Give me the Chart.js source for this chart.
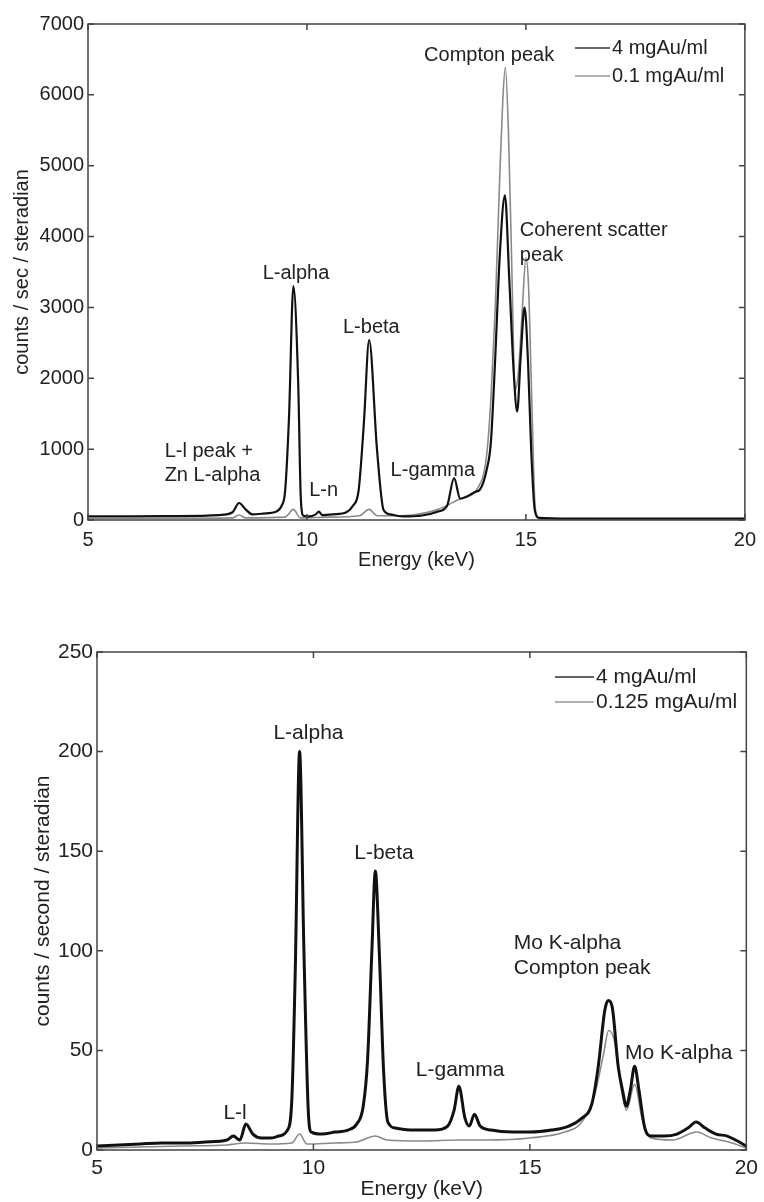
<!DOCTYPE html>
<html>
<head>
<meta charset="utf-8">
<script src="https://cdn.jsdelivr.net/npm/chart.js@4.4.1/dist/chart.umd.min.js"></script>
<style>
  html, body { margin: 0; padding: 0; background: #fff; }
  canvas { display: block; }
</style>
</head>
<body>
<canvas id="spectrumA" width="764" height="600"></canvas>
<canvas id="spectrumB" width="764" height="602"></canvas>
<script>
// upper panel: 4 mgAu/ml vs 0.1 mgAu/ml
let energyA4 = [5.0, 6.0, 7.0, 8.0, 8.3, 8.45, 8.6, 8.75, 9.0, 9.3, 9.42, 9.5, 9.59, 9.69, 9.8, 9.86, 9.92, 10.05, 10.2, 10.27, 10.35, 10.6, 10.9, 11.05, 11.18, 11.3, 11.42, 11.6, 11.75, 11.9, 12.2, 12.6, 13.0, 13.2, 13.36, 13.5, 13.65, 13.85, 13.95, 14.1, 14.2, 14.3, 14.4, 14.52, 14.62, 14.72, 14.8, 14.88, 14.97, 15.05, 15.12, 15.2, 15.3, 16.0, 18.0, 20.0];
let countsA4 = [50, 50, 55, 70, 110, 240, 150, 80, 90, 120, 200, 400, 1450, 3300, 1930, 300, 60, 50, 80, 117, 70, 80, 110, 200, 420, 1370, 2540, 990, 140, 80, 50, 60, 120, 200, 590, 300, 330, 400, 430, 700, 1100, 2300, 3700, 4580, 3400, 2100, 1530, 2300, 3000, 2200, 1000, 150, 30, 20, 20, 20];
let energyA01 = [5.0, 7.0, 8.3, 8.45, 8.6, 9.5, 9.69, 9.85, 10.5, 11.2, 11.42, 11.6, 12.0, 12.4, 13.0, 13.5, 13.9, 14.1, 14.2, 14.3, 14.4, 14.47, 14.53, 14.6, 14.68, 14.75, 14.83, 14.92, 15.0, 15.06, 15.12, 15.2, 15.25, 15.35, 20.0];
let countsA01 = [20, 25, 30, 70, 30, 40, 150, 30, 40, 60, 150, 60, 60, 70, 150, 300, 450, 900, 1700, 3000, 4800, 5900, 6390, 5500, 3500, 1830, 2100, 3000, 3700, 3300, 2000, 300, 60, 15, 10];

// lower panel: 4 mgAu/ml vs 0.125 mgAu/ml
let energyB4 = [5.0, 5.5, 6.0, 6.5, 7.0, 7.5, 8.0, 8.15, 8.3, 8.44, 8.6, 8.8, 9.0, 9.2, 9.4, 9.5, 9.58, 9.68, 9.78, 9.88, 9.95, 10.2, 10.5, 10.8, 11.0, 11.15, 11.25, 11.35, 11.43, 11.52, 11.62, 11.72, 11.9, 12.3, 12.8, 13.1, 13.25, 13.36, 13.5, 13.6, 13.72, 13.85, 14.1, 14.6, 15.0, 15.5, 15.9, 16.2, 16.43, 16.58, 16.73, 16.81, 16.9, 17.04, 17.14, 17.23, 17.32, 17.42, 17.52, 17.65, 17.8, 18.1, 18.4, 18.65, 18.84, 19.05, 19.3, 19.56, 19.75, 20.0];
let countsB4 = [2, 2.5, 3, 3.5, 3.5, 4, 5, 7, 5, 13, 8, 6, 6, 7, 10, 25, 90, 200, 100, 20, 9, 8, 9, 10, 13, 22, 45, 100, 140, 100, 40, 14, 11, 10, 10, 12, 20, 32, 16, 12, 18, 12, 10, 9, 9, 10, 12, 16, 23, 42, 70, 75, 72, 42, 30, 22, 30, 42, 30, 11.5, 7, 7, 8, 11, 14, 11, 8, 7, 5, 2];
let energyB0125 = [5.0, 6.0, 7.0, 8.0, 8.44, 9.0, 9.5, 9.68, 9.85, 10.5, 11.0, 11.43, 11.7, 12.5, 13.36, 14.0, 15.0, 15.8, 16.2, 16.5, 16.7, 16.82, 16.95, 17.1, 17.23, 17.42, 17.6, 17.8, 18.3, 18.85, 19.2, 19.6, 20.0];
let countsB0125 = [1, 1.5, 2, 2.5, 3.5, 3, 3.5, 8, 3, 3.5, 4, 7, 5, 4.5, 5, 5, 6, 9, 14, 28, 48, 60, 55, 32, 20, 33, 15, 6, 5, 9, 6, 4, 1];

// peak labels, in keV / counts
let notesA = [
  { text: "Compton peak", x: 14.16, y: 6560 },
  { text: "Coherent scatter", x: 14.86, y: 4090, align: "left" },
  { text: "peak", x: 14.86, y: 3740, align: "left" },
  { text: "L-alpha", x: 9.75, y: 3485 },
  { text: "L-beta", x: 11.47, y: 2710 },
  { text: "L-l peak +", x: 6.75, y: 960, align: "left" },
  { text: "Zn L-alpha", x: 6.75, y: 635, align: "left" },
  { text: "L-n", x: 10.38, y: 423 },
  { text: "L-gamma", x: 12.875, y: 705 }
];
let notesB = [
  { text: "L-alpha", x: 9.885, y: 209 },
  { text: "L-beta", x: 11.63, y: 149 },
  { text: "L-l", x: 8.19, y: 18.6 },
  { text: "L-gamma", x: 13.39, y: 40.2 },
  { text: "Mo K-alpha", x: 14.63, y: 103.9, align: "left" },
  { text: "Compton peak", x: 14.63, y: 91.4, align: "left" },
  { text: "Mo K-alpha", x: 17.2, y: 48.7, align: "left" }
];

let labelsA = ["4 mgAu/ml", "0.1 mgAu/ml"];
let labelsB = ["4 mgAu/ml", "0.125 mgAu/ml"];

Chart.defaults.font.family = "'Liberation Sans', Arial, sans-serif";
Chart.defaults.color = "#222";

function toPoints(xs, ys) {
  return xs.map((v, i) => ({ x: v, y: ys[i] }));
}

// box, inward ticks, peak labels and legend
const framePlugin = {
  id: "frame",
  afterDraw(chart, args, opts) {
    let ctx = chart.ctx;
    let a = chart.chartArea;
    let x = chart.scales.x;
    let y = chart.scales.y;
    ctx.save();
    ctx.strokeStyle = "#444";
    ctx.lineWidth = 1.5;
    ctx.strokeRect(a.left, a.top, a.right - a.left, a.bottom - a.top);
    ctx.beginPath();
    x.ticks.forEach((t) => {
      let px = x.getPixelForValue(t.value);
      ctx.moveTo(px, a.bottom); ctx.lineTo(px, a.bottom - 6);
      ctx.moveTo(px, a.top); ctx.lineTo(px, a.top + 6);
    });
    y.ticks.forEach((t) => {
      let py = y.getPixelForValue(t.value);
      ctx.moveTo(a.left, py); ctx.lineTo(a.left + 6, py);
      ctx.moveTo(a.right, py); ctx.lineTo(a.right - 6, py);
    });
    ctx.stroke();

    ctx.font = opts.font;
    ctx.fillStyle = "#222";
    ctx.textBaseline = "middle";
    opts.notes.forEach((n) => {
      ctx.textAlign = n.align || "center";
      ctx.fillText(n.text, x.getPixelForValue(n.x), y.getPixelForValue(n.y));
    });

    let lg = opts.legend;
    lg.labels.forEach((txt, i) => {
      let ly = lg.rows[i];
      ctx.strokeStyle = lg.colors[i];
      ctx.lineWidth = 1.5;
      ctx.beginPath();
      ctx.moveTo(lg.x0, ly); ctx.lineTo(lg.x1, ly);
      ctx.stroke();
      ctx.textAlign = "left";
      ctx.fillText(txt, lg.x1 + 2, ly);
    });
    ctx.restore();
  }
};

function makeChart(id, cfg) {
  return new Chart(document.getElementById(id), {
    type: "scatter",
    data: {
      datasets: [
        { label: cfg.labels[0], data: toPoints(cfg.ex4, cfg.cy4), showLine: true, pointRadius: 0, borderColor: "#111", borderWidth: cfg.w4, cubicInterpolationMode: "monotone" },
        { label: cfg.labels[1], data: toPoints(cfg.exLo, cfg.cyLo), showLine: true, pointRadius: 0, borderColor: "#8a8a8a", borderWidth: 1.6, cubicInterpolationMode: "monotone" }
      ]
    },
    options: {
      responsive: false,
      animation: false,
      events: [],
      layout: { padding: cfg.pad },
      plugins: {
        legend: { display: false },
        tooltip: { enabled: false },
        frame: { font: cfg.font + "px 'Liberation Sans', Arial, sans-serif", notes: cfg.notes, legend: cfg.legend }
      },
      scales: {
        x: {
          type: "linear", min: 5, max: 20,
          grid: { display: false, drawTicks: false },
          border: { display: false },
          ticks: { stepSize: 5, padding: cfg.xPad, font: { size: cfg.font }, maxRotation: 0, callback: (v) => String(v) },
          title: { display: true, text: "Energy (keV)", font: { size: cfg.font }, padding: { top: 0, bottom: cfg.xTitlePad } },
          afterFit: (s) => { s.height = cfg.xHeight; }
        },
        y: {
          min: 0, max: cfg.yMax,
          grid: { display: false, drawTicks: false },
          border: { display: false },
          ticks: { stepSize: cfg.yStep, padding: 4, font: { size: cfg.font }, callback: (v) => String(v) },
          title: { display: true, text: cfg.yTitle, font: { size: cfg.font }, padding: { top: cfg.yTitlePad, bottom: 0 } },
          afterFit: (s) => { s.width = cfg.yWidth; }
        }
      }
    },
    plugins: [framePlugin]
  });
}

makeChart("spectrumA", {
  ex4: energyA4, cy4: countsA4, exLo: energyA01, cyLo: countsA01,
  labels: labelsA, notes: notesA, w4: 2.2, font: 20,
  pad: { top: 24, right: 16, left: 0, bottom: 0 },
  xHeight: 80, yWidth: 88, xPad: 8, xTitlePad: 28, yTitlePad: 10,
  yMax: 7000, yStep: 1000, yTitle: "counts / sec / steradian",
  legend: { labels: labelsA, colors: ["#333", "#999"], x0: 575, x1: 610, rows: [48, 76] }
});

makeChart("spectrumB", {
  ex4: energyB4, cy4: countsB4, exLo: energyB0125, cyLo: countsB0125,
  labels: labelsB, notes: notesB, w4: 3, font: 21,
  pad: { top: 52, right: 13, left: 0, bottom: 0 },
  xHeight: 52, yWidth: 97, xPad: 6, xTitlePad: 0, yTitlePad: 31,
  yMax: 250, yStep: 50, yTitle: "counts / second / steradian",
  legend: { labels: labelsB, colors: ["#333", "#999"], x0: 555, x1: 594, rows: [77, 102] }
});
</script>
</body>
</html>
